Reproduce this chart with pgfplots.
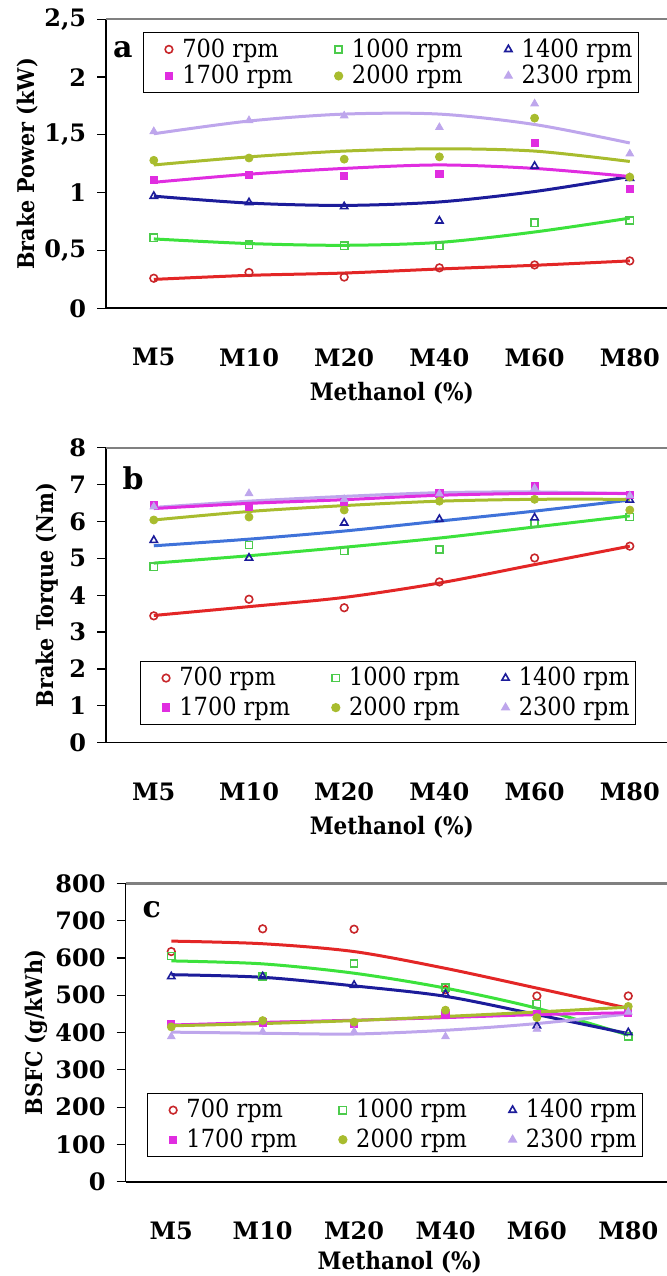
\documentclass[border=0pt]{standalone}
\usepackage{fontspec}
\setmainfont{DejaVu Serif Condensed}
\newfontfamily\widefont{DejaVu Serif}
\usepackage{pgfplots}
\pgfplotsset{compat=1.18}
\definecolor{r7}{HTML}{E32626}
\definecolor{r7m}{HTML}{C8262A}
\definecolor{g10}{HTML}{3CE23C}
\definecolor{g10m}{HTML}{4CCB4C}
\definecolor{b14}{HTML}{1C1C9A}
\definecolor{b14b}{HTML}{3F72D9}
\definecolor{m17}{HTML}{E02DE0}
\definecolor{o20}{HTML}{A8BC2E}
\definecolor{l23}{HTML}{BEA6EC}
\pgfplotsset{
  panel/.style={
    scale only axis, clip=false, anchor=south west,
    xmin=-0.5, xmax=5.5,
    axis x line*=bottom, axis y line*=left,
    axis line style={-, black, line width=0.8pt},
    xtick={0,...,5}, xticklabels={M5,M10,M20,M40,M60,M80},
    xtick style={draw=none},
    ytick style={black, line width=0.6pt},
    tick align=outside, major tick length=4.5pt,
    ticklabel style={font=\widefont\fontsize{12}{13}\selectfont\bfseries},
    xticklabel style={yshift=-12pt},
    yticklabel style={xshift=-2pt},
    xlabel={Methanol (\%)},
    xlabel style={font=\fontsize{12}{13}\selectfont\bfseries, at={(axis description cs:0.5,0)}, anchor=center, yshift=-42.5pt},
    ylabel style={font=\fontsize{11.5}{13}\selectfont\bfseries, anchor=center},
    legend columns=3, legend cell align=left,
    legend style={anchor=north west, draw=black, line width=0.6pt,
      font=\fontsize{12.5}{14}\selectfont, inner sep=1pt, row sep=0pt,
      /tikz/every even column/.append style={column sep=9pt}},
  },
  lgimg/.style={legend image code/.code={\path (0cm,0cm) (0.55cm,0cm); \draw[##1] plot coordinates {(0.4cm,0cm)};}},
  s7/.style={only marks, mark=o, mark size=1.9pt, draw=r7m, line width=0.8pt, lgimg},
  s10/.style={only marks, mark=square, mark size=1.8pt, draw=g10m, line width=0.8pt, lgimg},
  s14/.style={only marks, mark=triangle, mark size=2.1pt, draw=b14, line width=0.8pt, lgimg},
  s17/.style={only marks, mark=square*, mark size=1.8pt, draw=m17, fill=m17, lgimg},
  s20/.style={only marks, mark=*, mark size=2pt, draw=o20, fill=o20, lgimg},
  s23/.style={only marks, mark=triangle*, mark size=2.2pt, draw=l23, fill=l23, lgimg},
  tr/.style={line width=1.5pt, smooth, no marks, forget plot},
}
\begin{document}
\begin{tikzpicture}
% ---------- panel a ----------
\begin{axis}[panel, at={(53.1pt,483.85pt)}, width=285.6pt, height=144.5pt,
  ymin=0, ymax=2.5, ytick={0,0.5,1,1.5,2,2.5}, yticklabels={0,{0,5},1,{1,5},2,{2,5}},
  ylabel={Brake Power (kW)}, ylabel style={at={(axis description cs:-0.137,0.5)}},
  legend style={at={(axis description cs:0.064,0.956)}, row sep=-1.5pt}]
\addplot[tr, r7] coordinates {(0,0.25)(1,0.285)(2,0.305)(3,0.34)(4,0.372)(5,0.41)};
\addplot[tr, g10] coordinates {(0,0.60)(1,0.56)(2,0.545)(3,0.57)(4,0.66)(5,0.78)};
\addplot[tr, b14] coordinates {(0,0.97)(1,0.91)(2,0.89)(3,0.92)(4,1.01)(5,1.14)};
\addplot[tr, m17] coordinates {(0,1.09)(1,1.16)(2,1.21)(3,1.24)(4,1.21)(5,1.14)};
\addplot[tr, o20] coordinates {(0,1.24)(1,1.31)(2,1.36)(3,1.38)(4,1.36)(5,1.27)};
\addplot[tr, l23] coordinates {(0,1.51)(1,1.62)(2,1.68)(3,1.68)(4,1.59)(5,1.43)};
\addplot[s7] coordinates {(0,0.26)(1,0.31)(2,0.27)(3,0.35)(4,0.375)(5,0.41)};
\addlegendentry{700 rpm}
\addplot[s10] coordinates {(0,0.61)(1,0.55)(2,0.54)(3,0.54)(4,0.74)(5,0.76)};
\addlegendentry{1000 rpm}
\addplot[s14] coordinates {(0,0.97)(1,0.915)(2,0.88)(3,0.756)(4,1.23)(5,1.126)};
\addlegendentry{1400 rpm}
\addplot[s17] coordinates {(0,1.11)(1,1.155)(2,1.146)(3,1.163)(4,1.43)(5,1.034)};
\addlegendentry{1700 rpm}
\addplot[s20] coordinates {(0,1.28)(1,1.30)(2,1.29)(3,1.31)(4,1.645)(5,1.135)};
\addlegendentry{2000 rpm}
\addplot[s23] coordinates {(0,1.53)(1,1.625)(2,1.666)(3,1.565)(4,1.77)(5,1.337)};
\addlegendentry{2300 rpm}
\draw[black!50, line width=1.2pt] (rel axis cs:0,1) -- (rel axis cs:1,1);
\node[font=\widefont\fontsize{15}{16}\selectfont\bfseries] at (axis description cs:0.029,0.894) {a};
\end{axis}
% ---------- panel b ----------
\begin{axis}[panel, at={(53.1pt,266.65pt)}, width=285.6pt, height=147.5pt,
  ymin=0, ymax=8, ytick={0,1,...,8}, yticklabels={0,1,2,3,4,5,6,7,8},
  ylabel={Brake Torque (Nm)}, ylabel style={at={(axis description cs:-0.104,0.5)}},
  legend style={at={(axis description cs:0.059,0.278)}}]
\addplot[tr, r7] coordinates {(0,3.45)(1,3.69)(2,3.94)(3,4.33)(4,4.83)(5,5.33)};
\addplot[tr, g10] coordinates {(0,4.87)(1,5.07)(2,5.30)(3,5.55)(4,5.85)(5,6.15)};
\addplot[tr, b14b] coordinates {(0,5.34)(1,5.52)(2,5.74)(3,6.01)(4,6.28)(5,6.58)};
\addplot[tr, o20] coordinates {(0,6.04)(1,6.27)(2,6.43)(3,6.55)(4,6.60)(5,6.60)};
\addplot[tr, l23] coordinates {(0,6.38)(1,6.55)(2,6.68)(3,6.78)(4,6.80)(5,6.75)};
\addplot[tr, m17] coordinates {(0,6.35)(1,6.49)(2,6.59)(3,6.71)(4,6.76)(5,6.76)};
\addplot[s7] coordinates {(0,3.44)(1,3.89)(2,3.66)(3,4.36)(4,5.01)(5,5.33)};
\addlegendentry{700 rpm}
\addplot[s10] coordinates {(0,4.77)(1,5.36)(2,5.20)(3,5.24)(4,5.95)(5,6.12)};
\addlegendentry{1000 rpm}
\addplot[s14] coordinates {(0,5.49)(1,5.01)(2,5.96)(3,6.06)(4,6.10)(5,6.58)};
\addlegendentry{1400 rpm}
\addplot[s17] coordinates {(0,6.44)(1,6.40)(2,6.53)(3,6.76)(4,6.96)(5,6.71)};
\addlegendentry{1700 rpm}
\addplot[s20] coordinates {(0,6.04)(1,6.12)(2,6.31)(3,6.55)(4,6.60)(5,6.31)};
\addlegendentry{2000 rpm}
\addplot[s23] coordinates {(0,6.40)(1,6.76)(2,6.60)(3,6.75)(4,6.90)(5,6.70)};
\addlegendentry{2300 rpm}
\draw[black!50, line width=1.2pt] (rel axis cs:0,1) -- (rel axis cs:1,1);
\node[font=\widefont\fontsize{15}{16}\selectfont\bfseries] at (axis description cs:0.047,0.897) {b};
\end{axis}
% ---------- panel c ----------
\begin{axis}[panel, at={(62.8pt,47.15pt)}, width=274.2pt, height=149.2pt,
  ymin=0, ymax=800, ytick={0,100,...,800}, yticklabels={0,100,200,300,400,500,600,700,800},
  ylabel={BSFC (g/kWh)}, ylabel style={at={(axis description cs:-0.162,0.5)}},
  xlabel style={yshift=2pt},
  legend style={at={(axis description cs:0.039,0.298)}}]
\addplot[tr, r7] coordinates {(0,645)(1,638)(2,617)(3,572)(4,519)(5,465)};
\addplot[tr, g10] coordinates {(0,592)(1,584)(2,559)(3,519)(4,465)(5,393)};
\addplot[tr, b14] coordinates {(0,555)(1,548)(2,525)(3,497)(4,448)(5,397)};
\addplot[tr, l23] coordinates {(0,401)(1,398)(2,396)(3,406)(4,424)(5,450)};
\addplot[tr, m17] coordinates {(0,420)(1,427)(2,433)(3,440)(4,448)(5,453)};
\addplot[tr, o20] coordinates {(0,418)(1,424)(2,432)(3,443)(4,455)(5,468)};
\addplot[s7] coordinates {(0,617)(1,678)(2,677)(3,515)(4,498)(5,498)};
\addlegendentry{700 rpm}
\addplot[s10] coordinates {(0,605)(1,550)(2,585)(3,521)(4,476)(5,389)};
\addlegendentry{1000 rpm}
\addplot[s14] coordinates {(0,550)(1,550)(2,527)(3,503)(4,418)(5,400)};
\addlegendentry{1400 rpm}
\addplot[s17] coordinates {(0,423)(1,427)(2,423)(3,448)(4,450)(5,453)};
\addlegendentry{1700 rpm}
\addplot[s20] coordinates {(0,415)(1,432)(2,428)(3,460)(4,440)(5,470)};
\addlegendentry{2000 rpm}
\addplot[s23] coordinates {(0,389)(1,402)(2,402)(3,389)(4,409)(5,455)};
\addlegendentry{2300 rpm}
\draw[black!50, line width=1.2pt] (rel axis cs:0,1) -- (rel axis cs:1,1);
\node[font=\widefont\fontsize{15}{16}\selectfont\bfseries] at (axis description cs:0.0476,0.91) {c};
\end{axis}
\pgfresetboundingbox
\path[use as bounding box] (0,0) rectangle (333.5pt,638pt);
\end{tikzpicture}
\end{document}
